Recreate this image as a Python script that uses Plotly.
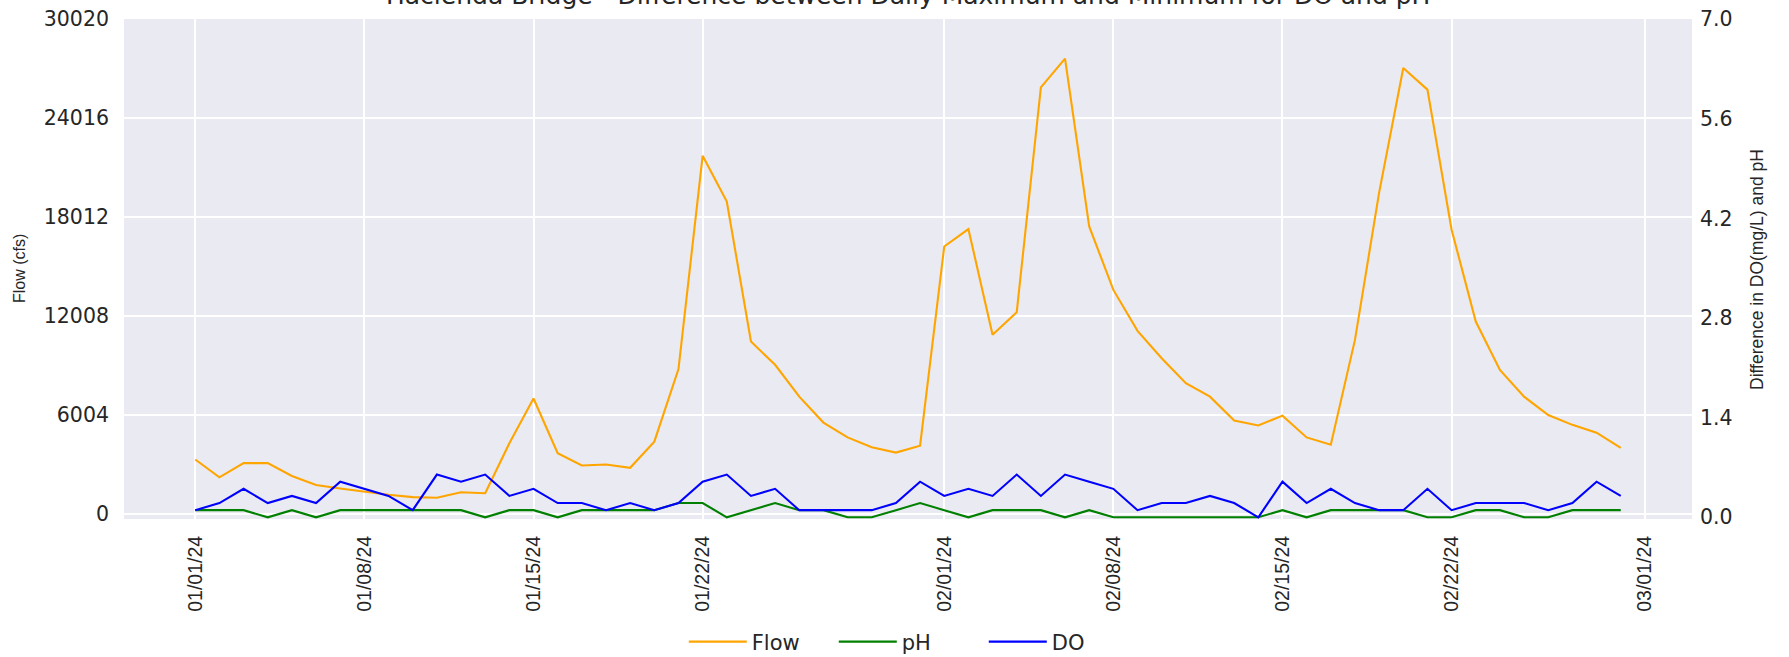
import plotly.graph_objects as go
import pandas as pd

# ---- data ----
dates = pd.date_range("2024-01-01", "2024-02-29", freq="D").strftime("%Y-%m-%d").tolist()

flow = [3320, 2240, 3100, 3100, 2320, 1780, 1560, 1360, 1180, 1040,
        1000, 1340, 1280, 4300, 7020, 3700, 2960, 3020, 2820, 4400,
        8800, 21730, 18960, 10470, 9060, 7130, 5560, 4660, 4060, 3740,
        4160, 16230, 17290, 10880, 12250, 25880, 27620, 17450, 13600, 11120,
        9460, 7950, 7130, 5680, 5380, 5980, 4660, 4220, 10570, 19500,
        27050, 25740, 17250, 11680, 8750, 7130, 6020, 5420, 4950, 4020]

ph = [0.1, 0.1, 0.1, 0.0, 0.1, 0.0, 0.1, 0.1, 0.1, 0.1,
      0.1, 0.1, 0.0, 0.1, 0.1, 0.0, 0.1, 0.1, 0.1, 0.1,
      0.2, 0.2, 0.0, 0.1, 0.2, 0.1, 0.1, 0.0, 0.0, 0.1,
      0.2, 0.1, 0.0, 0.1, 0.1, 0.1, 0.0, 0.1, 0.0, 0.0,
      0.0, 0.0, 0.0, 0.0, 0.0, 0.1, 0.0, 0.1, 0.1, 0.1,
      0.1, 0.0, 0.0, 0.1, 0.1, 0.0, 0.0, 0.1, 0.1, 0.1]

do = [0.1, 0.2, 0.4, 0.2, 0.3, 0.2, 0.5, 0.4, 0.3, 0.1,
      0.6, 0.5, 0.6, 0.3, 0.4, 0.2, 0.2, 0.1, 0.2, 0.1,
      0.2, 0.5, 0.6, 0.3, 0.4, 0.1, 0.1, 0.1, 0.1, 0.2,
      0.5, 0.3, 0.4, 0.3, 0.6, 0.3, 0.6, 0.5, 0.4, 0.1,
      0.2, 0.2, 0.3, 0.2, 0.0, 0.5, 0.2, 0.4, 0.2, 0.1,
      0.1, 0.4, 0.1, 0.2, 0.2, 0.2, 0.1, 0.2, 0.5, 0.3]

tick_dates = ["2024-01-01", "2024-01-08", "2024-01-15", "2024-01-22", "2024-02-01",
              "2024-02-08", "2024-02-15", "2024-02-22", "2024-03-01"]
tick_labels = ["01/01/24", "01/08/24", "01/15/24", "01/22/24", "02/01/24",
               "02/08/24", "02/15/24", "02/22/24", "03/01/24"]
flow_ticks = [0, 6004, 12008, 18012, 24016, 30020]
diff_ticks = [0.0, 1.4, 2.8, 4.2, 5.6, 7.0]

title_text = "Hacienda Bridge - Difference between Daily Maximum and Minimum for DO and pH"

# ---- styling ----
W, H = 1789, 657
L, R, T, B = 124, 97, 19, 138
PW, PH_ = W - L - R, H - T - B
H_FONT = "DejaVu Sans"
V_FONT = "Liberation Sans"
TXT = "#262626"

fig = go.Figure()
fig.add_trace(go.Scatter(x=dates, y=flow, name="Flow", mode="lines",
                         line=dict(color="#FFA500", width=2.1), yaxis="y"))
fig.add_trace(go.Scatter(x=dates, y=ph, name="pH", mode="lines",
                         line=dict(color="#008000", width=2.1), yaxis="y2"))
fig.add_trace(go.Scatter(x=dates, y=do, name="DO", mode="lines",
                         line=dict(color="#0000FF", width=2.1), yaxis="y2"))

fig.update_layout(
    width=W, height=H,
    margin=dict(l=L, r=R, t=T, b=B, pad=0, autoexpand=False),
    paper_bgcolor="white",
    plot_bgcolor="#EAEAF2",
    showlegend=True,
    legend=dict(orientation="h", x=0.357, xanchor="left",
                yref="container", y=1 - 642 / H, yanchor="middle",
                font=dict(family=H_FONT, size=21, color=TXT),
                itemwidth=58, bgcolor="rgba(0,0,0,0)", entrywidth=77),
    xaxis=dict(type="date", automargin=False,
               range=["2023-12-29 01:12", "2024-03-02 22:48"],
               tickvals=tick_dates, ticktext=tick_labels,
               tickangle=-90, ticks="", ticklabelstandoff=12,
               tickfont=dict(family=V_FONT, size=19.5, color=TXT),
               showgrid=True, gridcolor="white", gridwidth=1.6,
               zeroline=False, showline=False),
    yaxis=dict(range=[-285, 30020], tickvals=flow_ticks, automargin=False,
               ticktext=[str(v) for v in flow_ticks],
               ticks="", ticklabelstandoff=14,
               tickfont=dict(family=H_FONT, size=20.5, color=TXT),
               showgrid=True, gridcolor="white", gridwidth=1.6,
               zeroline=False, showline=False),
    yaxis2=dict(range=[-0.024, 7.0], overlaying="y", side="right", automargin=False,
                tickvals=diff_ticks, ticktext=[f"{v:.1f}" for v in diff_ticks],
                ticks="", ticklabelstandoff=7,
                tickfont=dict(family=H_FONT, size=20.5, color=TXT),
                showgrid=False, zeroline=False, showline=False),
    annotations=[
        dict(text=title_text, xref="paper", yref="paper", x=0.5, y=1.0,
             xanchor="center", yanchor="bottom", yshift=7, showarrow=False,
             font=dict(family=H_FONT, size=25, color=TXT)),
        dict(text="Flow (cfs)", xref="paper", yref="paper",
             x=(19 - L) / PW, y=0.5, xanchor="center", yanchor="middle",
             textangle=-90, showarrow=False,
             font=dict(family=V_FONT, size=16, color=TXT)),
        dict(text="Difference in DO(mg/L) and pH", xref="paper", yref="paper",
             x=(1757 - L) / PW, y=0.5, xanchor="center", yanchor="middle",
             textangle=-90, showarrow=False,
             font=dict(family=V_FONT, size=17.5, color=TXT)),
    ],
)

fig.write_html("out.html",
               config={"displayModeBar": False},
               post_script="document.body.style.margin='0';document.body.style.overflow='hidden';")
